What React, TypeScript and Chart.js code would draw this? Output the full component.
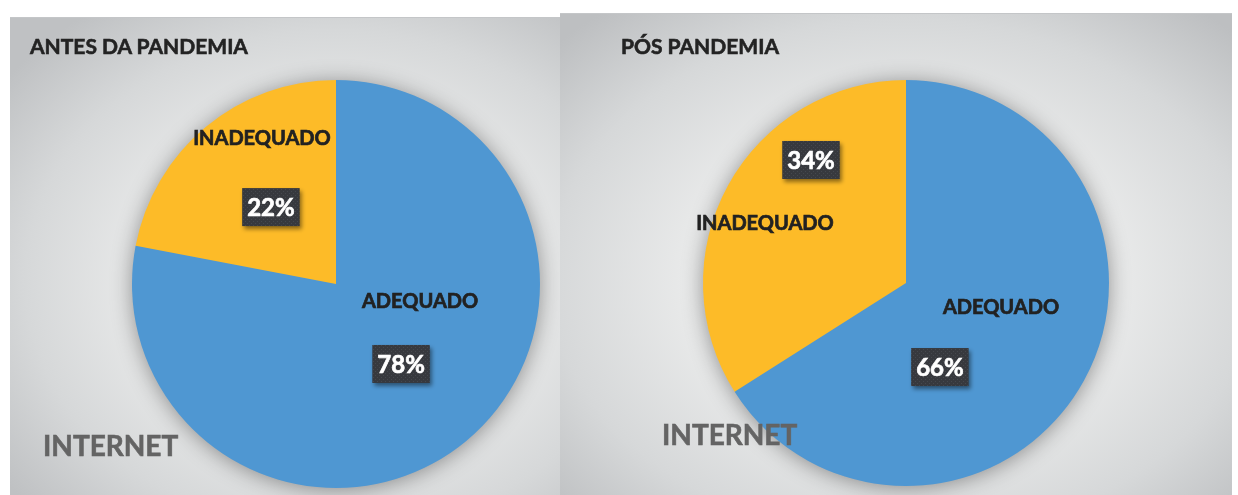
import React, { useEffect, useRef } from "react";
import { Chart, registerables } from "chart.js";

Chart.register(...registerables);

// ---- data ----
const categories = ["ADEQUADO", "INADEQUADO"];
const antesValues = [78, 22];
const posValues = [66, 34];
const panelTitles = ["ANTES DA PANDEMIA", "PÓS PANDEMIA"];
const panelSubtitle = "INTERNET";
const sliceColors = ["#4f97d2", "#fdbb28"];

// ---- label placement (fractions of pie radius, from pie centre) ----
const antesNameOffsets = [
  [0.412, 0.088],
  [-0.363, -0.711],
];
const antesPctOffsets = [
  [0.319, 0.392],
  [-0.319, -0.377],
];
const posNameOffsets = [
  [0.468, 0.123],
  [-0.695, -0.291],
];
const posPctOffsets = [
  [0.167, 0.414],
  [-0.468, -0.606],
];

const FONT = "Lato, 'Open Sans', 'DejaVu Sans', sans-serif";

let patternCache: CanvasPattern | null = null;
function boxPattern(ctx: CanvasRenderingContext2D): CanvasPattern | string {
  if (patternCache) return patternCache;
  const c = document.createElement("canvas");
  c.width = 4;
  c.height = 4;
  const p = c.getContext("2d");
  if (!p) return "#383b40";
  p.fillStyle = "#37393e";
  p.fillRect(0, 0, 4, 4);
  p.fillStyle = "#45484e";
  p.fillRect(1, 1, 1, 1);
  p.fillRect(3, 3, 1, 1);
  const pat = ctx.createPattern(c, "repeat");
  patternCache = pat;
  return pat || "#383b40";
}

const shadowPlugin = {
  id: "pieShadow",
  beforeDatasetsDraw(chart: any) {
    const meta = chart.getDatasetMeta(0);
    if (!meta.data.length) return;
    const { x, y, outerRadius } = meta.data[0].getProps(["x", "y", "outerRadius"], true);
    const ctx = chart.ctx as CanvasRenderingContext2D;
    ctx.save();
    ctx.shadowColor = "rgba(0,0,0,0.42)";
    ctx.shadowBlur = 22;
    ctx.shadowOffsetX = 0;
    ctx.shadowOffsetY = 2;
    ctx.fillStyle = sliceColors[0];
    ctx.beginPath();
    ctx.arc(x, y, outerRadius - 1, 0, Math.PI * 2);
    ctx.fill();
    ctx.restore();
  },
};

const labelPlugin = {
  id: "sliceLabels",
  afterDatasetsDraw(chart: any, _args: any, opts: any) {
    const ctx = chart.ctx as CanvasRenderingContext2D;
    const meta = chart.getDatasetMeta(0);
    const values: number[] = chart.data.datasets[0].data;
    const total = values.reduce((a, b) => a + b, 0);
    meta.data.forEach((arc: any, i: number) => {
      const { x, y, outerRadius } = arc.getProps(["x", "y", "outerRadius"], true);
      const nOff = opts.nameOffsets[i];
      const pOff = opts.pctOffsets[i];
      // category name
      ctx.save();
      ctx.font = `bold 20px ${FONT}`;
      ctx.fillStyle = "#222222";
      ctx.strokeStyle = "#222222";
      ctx.lineWidth = 0.7;
      ctx.textAlign = "center";
      ctx.textBaseline = "middle";
      const nx = x + nOff[0] * outerRadius;
      const ny = y + nOff[1] * outerRadius;
      ctx.fillText(String(chart.data.labels[i]), nx, ny);
      ctx.strokeText(String(chart.data.labels[i]), nx, ny);
      ctx.restore();
      // percentage box
      const pct = Math.round((values[i] / total) * 100) + "%";
      const cx = x + pOff[0] * outerRadius;
      const cy = y + pOff[1] * outerRadius;
      ctx.save();
      ctx.font = `bold 24px ${FONT}`;
      const tw = ctx.measureText(pct).width;
      const bw = tw + 10;
      const bh = 38;
      ctx.shadowColor = "rgba(0,0,0,0.45)";
      ctx.shadowBlur = 4;
      ctx.shadowOffsetX = 2;
      ctx.shadowOffsetY = 3;
      ctx.fillStyle = boxPattern(ctx);
      ctx.fillRect(cx - bw / 2, cy - bh / 2, bw, bh);
      ctx.shadowColor = "transparent";
      ctx.fillStyle = "#ffffff";
      ctx.strokeStyle = "#ffffff";
      ctx.lineWidth = 0.7;
      ctx.textAlign = "center";
      ctx.textBaseline = "middle";
      ctx.fillText(pct, cx, cy + 1);
      ctx.strokeText(pct, cx, cy + 1);
      ctx.restore();
    });
  },
};

type PanelProps = {
  left: number;
  top: number;
  width: number;
  height: number;
  values: number[];
  title: string;
  titlePos: [number, number];
  subPos: [number, number];
  padding: { left: number; top: number; right: number; bottom: number };
  nameOffsets: number[][];
  pctOffsets: number[][];
  bg: string;
};

function PiePanel(p: PanelProps) {
  const ref = useRef<HTMLCanvasElement | null>(null);
  useEffect(() => {
    let chart: Chart | null = null;
    let cancelled = false;
    const make = () => {
      if (cancelled || !ref.current) return;
      chart = new Chart(ref.current, {
        type: "pie",
        data: {
          labels: categories,
          datasets: [
            {
              data: p.values,
              backgroundColor: sliceColors,
              borderWidth: 0,
            },
          ],
        },
        options: {
          responsive: false,
          animation: false,
          devicePixelRatio: 1,
          rotation: 0,
          layout: { padding: p.padding },
          plugins: {
            legend: { display: false },
            tooltip: { enabled: false },
            title: { display: false },
            sliceLabels: { nameOffsets: p.nameOffsets, pctOffsets: p.pctOffsets },
          } as any,
        },
        plugins: [shadowPlugin, labelPlugin],
      });
    };
    const fonts: any = (document as any).fonts;
    if (fonts && fonts.load) {
      Promise.all([fonts.load(`bold 20px Lato`), fonts.load(`bold 24px Lato`)])
        .then(make, make);
    } else {
      make();
    }
    return () => {
      cancelled = true;
      if (chart) chart.destroy();
    };
  }, []);

  return (
    <div
      style={{
        position: "absolute",
        left: p.left,
        top: p.top,
        width: p.width,
        height: p.height,
        background: p.bg,
        borderTop: "1px solid #c4c6c8",
        boxSizing: "border-box",
        overflow: "hidden",
      }}
    >
      <canvas
        ref={ref}
        width={p.width}
        height={p.height}
        style={{ position: "absolute", left: 0, top: 0, width: p.width, height: p.height }}
      />
      <div
        style={{
          position: "absolute",
          left: p.titlePos[0],
          top: p.titlePos[1],
          font: `bold 21px ${FONT}`,
          lineHeight: "22px",
          color: "#232323",
          whiteSpace: "nowrap",
          WebkitTextStroke: "0.6px #232323",
        }}
      >
        {p.title}
      </div>
      <div
        style={{
          position: "absolute",
          left: p.subPos[0],
          top: p.subPos[1],
          font: `bold 28px ${FONT}`,
          lineHeight: "28px",
          color: "#646464",
          whiteSpace: "nowrap",
          WebkitTextStroke: "0.6px #646464",
        }}
      >
        {panelSubtitle}
      </div>
    </div>
  );
}

export default function App() {
  return (
    <div
      style={{
        position: "absolute",
        left: 0,
        top: 0,
        width: 1238,
        height: 495,
        background: "#ffffff",
        overflow: "hidden",
      }}
    >
      <PiePanel
        left={10}
        top={17}
        width={550}
        height={478}
        values={antesValues}
        title={panelTitles[0]}
        titlePos={[20, 17]}
        subPos={[33, 413]}
        padding={{ left: 122, top: 62, right: 20, bottom: 8 }}
        nameOffsets={antesNameOffsets}
        pctOffsets={antesPctOffsets}
        bg="radial-gradient(ellipse 75% 70% at 59% 55%, #f3f3f3 0%, #e9eaea 45%, #d6d8d9 75%, #bfc1c3 100%)"
      />
      <PiePanel
        left={560}
        top={13}
        width={672}
        height={482}
        values={posValues}
        title={panelTitles[1]}
        titlePos={[61, 21]}
        subPos={[102, 406]}
        padding={{ left: 143, top: 66, right: 123, bottom: 10 }}
        nameOffsets={posNameOffsets}
        pctOffsets={posPctOffsets}
        bg="radial-gradient(ellipse 70% 72% at 51% 55%, #f3f3f3 0%, #e9eaea 45%, #d6d8d9 75%, #bdbfc1 100%)"
      />
    </div>
  );
}
